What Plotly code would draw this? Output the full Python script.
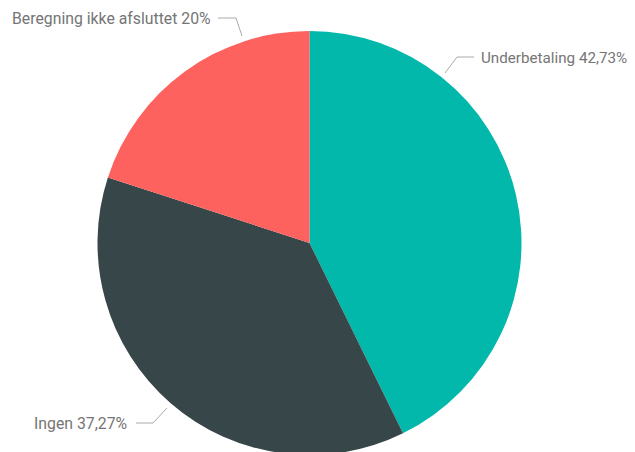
import plotly.graph_objects as go

W, H = 635, 452
OFF = 8  # page body margin offset
labels = ["Underbetaling", "Ingen", "Beregning ikke afsluttet"]
values = [42.73, 37.27, 20.0]
colors = ["#01B8AA", "#374649", "#FD625E"]

def fmt(v):
    s = ("%.2f" % v).rstrip("0").rstrip(".")
    return s.replace(".", ",") + "%"

def px(x):
    return (x - OFF) / W

def py(y):
    return 1 - (y - OFF) / H

cx, cy, r = 309.5, 243, 212
fig = go.Figure(go.Pie(
    labels=labels, values=values, sort=False, direction="clockwise", rotation=0,
    marker=dict(colors=colors, line=dict(width=0)), textinfo="none", hoverinfo="label+percent",
    domain=dict(x=[px(cx - r), px(cx + r)], y=[py(cy + r), py(cy - r)]), showlegend=False,
))

# label placements (pixel positions) and leader lines
label_pos = {
    "Underbetaling": dict(x=479, y=58, anchor="left", size=15.2, line=[(445, 73), (457, 57), (474, 57)]),
    "Ingen": dict(x=129, y=423, anchor="right", size=15.8, line=[(136, 423), (153, 423), (167, 408)]),
    "Beregning ikke afsluttet": dict(x=213, y=19, anchor="right", size=15.8, line=[(218, 18), (236, 18), (242, 36)]),
}

for lab, val in zip(labels, values):
    p = label_pos[lab]
    fig.add_annotation(x=px(p["x"]), y=py(p["y"]), xref="paper", yref="paper",
                       text=f"{lab} {fmt(val)}", showarrow=False, xanchor=p["anchor"], yanchor="middle",
                       font=dict(family="Roboto", size=p["size"], color="#757575"))
    pts = p["line"]
    path = "M " + " L ".join(f"{px(a)},{py(b)}" for a, b in pts)
    fig.add_shape(type="path", path=path, xref="paper", yref="paper",
                  line=dict(color="#AAAAAA", width=1))

fig.update_layout(width=W, height=H, margin=dict(l=0, r=0, t=0, b=0),
                  paper_bgcolor="white", plot_bgcolor="white")
fig.write_html("out.html")
